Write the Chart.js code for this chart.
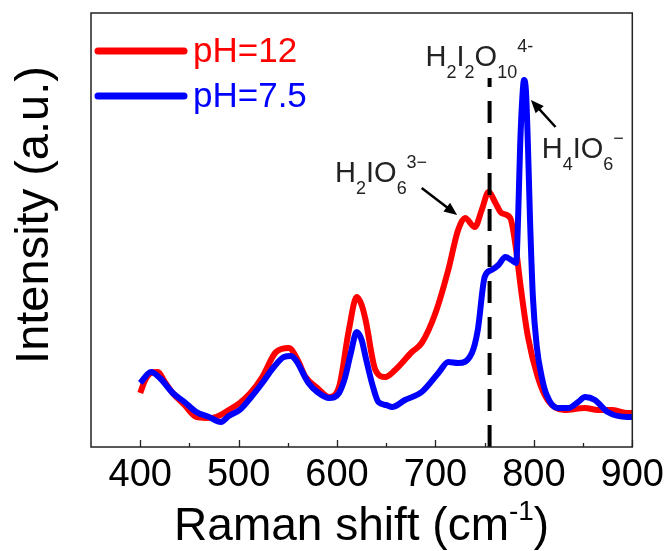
<!DOCTYPE html>
<html>
<head>
<meta charset="utf-8">
<script src="https://cdn.jsdelivr.net/npm/chart.js@4.4.0/dist/chart.umd.js"></script>
<style>
  html, body { margin: 0; padding: 0; background: #fff; }
  #wrap { width: 670px; height: 551px; position: relative; }
</style>
</head>
<body>
<div id="wrap"><canvas id="c"></canvas></div>
<script>
// Raman spectra
const seriesLabels = ['pH=12', 'pH=7.5'];
const seriesColors = ['#ff0000', '#0000ff'];

const ph12Shift = [400, 405, 411, 418, 425, 433, 445, 457, 467, 477, 490, 501, 512, 524, 538, 551, 560, 568, 580, 592,
  602, 612, 620, 625, 629, 639, 649, 659, 676, 686, 700, 713, 723, 730, 740, 747, 754, 761, 767, 776,
  781, 787, 794, 804, 814, 831, 852, 865, 880, 895, 900];
const ph12Intensity = [54, 67, 74, 75, 65, 54, 42, 30, 29, 30, 37, 44, 54, 70, 95, 99, 87, 70, 59, 50,
  60, 117, 150, 142, 127, 77, 70, 77, 95, 104, 134, 177, 217, 229, 220, 237, 255, 244, 234, 229,
  204, 157, 110, 70, 47, 37, 39, 37, 37, 34, 34];

const ph75Shift = [400, 411, 420, 433, 445, 457, 470, 482, 490, 501, 512, 524, 535, 546, 553, 558, 571, 580, 592, 602,
  608, 614, 620, 625, 629, 636, 642, 650, 656, 669, 686, 703, 713, 723, 737, 743, 750, 757, 764, 771,
  777, 782, 784, 786, 788, 790, 792, 794, 796, 799, 803, 808, 813, 824, 835, 845, 852, 862, 875, 895, 900];
const ph75Intensity = [64, 75, 69, 54, 45, 35, 30, 25, 31, 37, 49, 64, 79, 90, 91, 87, 64, 55, 49, 54,
  69, 94, 115, 107, 90, 62, 45, 42, 40, 47, 55, 74, 85, 84, 94, 117, 170, 177, 182, 190,
  187, 184, 230, 300, 345, 367, 355, 300, 230, 150, 100, 70, 52, 39, 39, 45, 50, 47, 35, 30, 30];

// vertical dashed marker for H2I2O10(4-)
const markerShift = [755, 755];
const markerIntensity = [0, 369];

const xTicks = [400, 500, 600, 700, 800, 900];
const xMinorTicks = [450, 550, 650, 750, 850];

// annotation anchors in data units
const labels = [
  { x: 690, y: 381, parts: [['H'], ['2', 'sub'], ['I'], ['2', 'sub'], ['O'], ['10', 'sub'], ['4-', 'sup']] },
  { x: 598, y: 265, parts: [['H'], ['2', 'sub'], ['IO'], ['6', 'sub'], ['3\u2212', 'sup']] },
  { x: 808, y: 289, parts: [['H'], ['4', 'sub'], ['IO'], ['6', 'sub'], ['\u2212', 'sup']] }
];
const arrows = [
  { from: [686, 259], to: [722, 232] },
  { from: [822, 320], to: [797, 347] }
];

const FONT = 'Arial, "Liberation Sans", sans-serif';

function toPoints(xs, ys) {
  return xs.map((x, i) => ({ x, y: ys[i] }));
}

function drawFormula(ctx, parts, x, y, size) {
  parts.forEach(([t, kind]) => {
    const s = kind ? size * 0.62 : size;
    const dy = kind === 'sub' ? size * 0.4 : kind === 'sup' ? -size * 0.5 : 0;
    ctx.font = s + 'px ' + FONT;
    ctx.fillText(t, x, y + dy);
    x += ctx.measureText(t).width;
  });
}

function drawArrow(ctx, x1, y1, x2, y2) {
  const a = Math.atan2(y2 - y1, x2 - x1);
  const head = 13, half = 5.5;
  ctx.lineWidth = 2.5;
  ctx.beginPath();
  ctx.moveTo(x1, y1);
  ctx.lineTo(x2 - Math.cos(a) * head * 0.8, y2 - Math.sin(a) * head * 0.8);
  ctx.stroke();
  ctx.beginPath();
  ctx.moveTo(x2, y2);
  ctx.lineTo(x2 - Math.cos(a) * head - Math.sin(a) * half, y2 - Math.sin(a) * head + Math.cos(a) * half);
  ctx.lineTo(x2 - Math.cos(a) * head + Math.sin(a) * half, y2 - Math.sin(a) * head - Math.cos(a) * half);
  ctx.closePath();
  ctx.fill();
}

const decor = {
  id: 'decor',
  afterDraw(chart) {
    const { ctx, chartArea: area, scales: { x, y } } = chart;
    ctx.save();

    // frame
    ctx.strokeStyle = '#222';
    ctx.lineWidth = 1.5;
    ctx.strokeRect(area.left, area.top, area.right - area.left, area.bottom - area.top);

    // inward ticks on the bottom axis
    ctx.lineWidth = 1.3;
    ctx.beginPath();
    xTicks.forEach(v => {
      const px = Math.round(x.getPixelForValue(v)) + 0.5;
      ctx.moveTo(px, area.bottom);
      ctx.lineTo(px, area.bottom - 7);
    });
    xMinorTicks.forEach(v => {
      const px = Math.round(x.getPixelForValue(v)) + 0.5;
      ctx.moveTo(px, area.bottom);
      ctx.lineTo(px, area.bottom - 4);
    });
    ctx.stroke();

    // axis titles
    ctx.fillStyle = '#000';
    ctx.textBaseline = 'alphabetic';
    const main = 'Raman shift (cm';
    ctx.font = '46px ' + FONT;
    const wMain = ctx.measureText(main).width;
    ctx.font = '28px ' + FONT;
    const wSup = ctx.measureText('-1').width;
    ctx.font = '46px ' + FONT;
    const wEnd = ctx.measureText(')').width;
    let tx = (area.left + area.right) / 2 - (wMain + wSup + wEnd) / 2;
    ctx.textAlign = 'left';
    ctx.fillText(main, tx, 540);
    tx += wMain;
    ctx.font = '28px ' + FONT;
    ctx.fillText('-1', tx, 520);
    tx += wSup;
    ctx.font = '46px ' + FONT;
    ctx.fillText(')', tx, 540);

    ctx.save();
    ctx.translate(48, 215);
    ctx.rotate(-Math.PI / 2);
    ctx.textAlign = 'center';
    ctx.font = '47px ' + FONT;
    ctx.fillText('Intensity (a.u.)', 0, 0);
    ctx.restore();

    // legend
    ctx.lineCap = 'round';
    ctx.lineWidth = 7;
    ctx.font = '35px ' + FONT;
    ctx.textAlign = 'left';
    seriesLabels.forEach((lab, i) => {
      const ly = 51 + i * 45;
      ctx.strokeStyle = seriesColors[i];
      ctx.beginPath();
      ctx.moveTo(98, ly);
      ctx.lineTo(184, ly);
      ctx.stroke();
      ctx.fillStyle = seriesColors[i];
      ctx.fillText(lab, 193, ly + 11);
    });

    // species labels and arrows
    ctx.fillStyle = '#222';
    labels.forEach(l => {
      drawFormula(ctx, l.parts, x.getPixelForValue(l.x), y.getPixelForValue(l.y), 29);
    });
    ctx.strokeStyle = '#000';
    ctx.fillStyle = '#000';
    ctx.lineCap = 'butt';
    arrows.forEach(a => {
      drawArrow(ctx,
        x.getPixelForValue(a.from[0]), y.getPixelForValue(a.from[1]),
        x.getPixelForValue(a.to[0]), y.getPixelForValue(a.to[1]));
    });

    ctx.restore();
  }
};

new Chart(document.getElementById('c'), {
  type: 'line',
  data: {
    datasets: [{
      label: 'marker',
      data: toPoints(markerShift, markerIntensity),
      borderColor: '#000',
      borderWidth: 4,
      borderDash: [22, 14],
      pointRadius: 0,
      order: 0
    }, {
      label: seriesLabels[1],
      data: toPoints(ph75Shift, ph75Intensity),
      borderColor: seriesColors[1],
      borderWidth: 6,
      cubicInterpolationMode: 'monotone',
      pointRadius: 0,
      order: 1
    }, {
      label: seriesLabels[0],
      data: toPoints(ph12Shift, ph12Intensity),
      borderColor: seriesColors[0],
      borderWidth: 6,
      cubicInterpolationMode: 'monotone',
      pointRadius: 0,
      order: 2
    }]
  },
  options: {
    responsive: true,
    maintainAspectRatio: false,
    animation: false,
    layout: { padding: { left: 91, right: 36, top: 13, bottom: 0 } },
    plugins: {
      legend: { display: false },
      tooltip: { enabled: false }
    },
    scales: {
      x: {
        type: 'linear',
        min: 350,
        max: 900,
        afterBuildTicks: scale => { scale.ticks = xTicks.map(v => ({ value: v })); },
        afterFit: scale => { scale.height = 104; },
        grid: { display: false, drawTicks: false },
        border: { display: false },
        ticks: {
          padding: 6,
          maxRotation: 0,
          autoSkip: false,
          color: '#000',
          font: { family: FONT, size: 38 }
        }
      },
      y: {
        display: false,
        min: 0,
        max: 434
      }
    }
  },
  plugins: [decor]
});
</script>
</body>
</html>
